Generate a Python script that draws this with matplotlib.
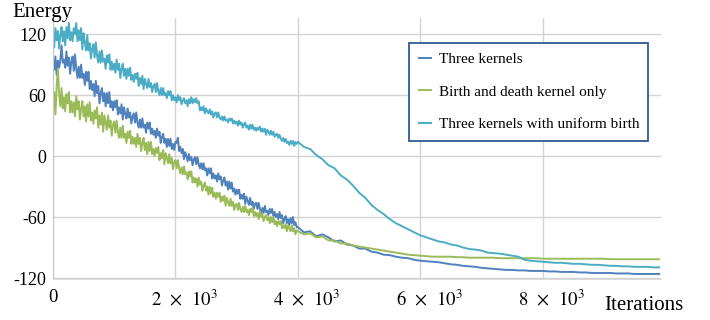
import numpy as np
import matplotlib
matplotlib.use('Agg')
import matplotlib.pyplot as plt
from matplotlib.transforms import ScaledTranslation

# energy: every 20 iterations up to 4000, then every 100
three_dense = [90, 85, 98, 80, 94, 87, 94, 109, 92, 95,
               87, 103, 89, 97, 81, 93, 98, 84, 100, 86,
               77, 88, 77, 90, 77, 81, 70, 83, 74, 83,
               66, 74, 65, 71, 59, 74, 62, 69, 52, 62,
               67, 54, 62, 49, 62, 52, 63, 48, 54, 45,
               54, 48, 55, 41, 48, 42, 51, 36, 48, 42,
               37, 47, 38, 43, 32, 39, 42, 33, 43, 33,
               28, 36, 28, 37, 28, 31, 23, 33, 27, 33,
               22, 27, 21, 25, 18, 27, 20, 24, 13, 19,
               22, 13, 17, 9, 17, 10, 17, 7, 12, 6,
               14, 13, 18, 5, 9, 3, 7, -3, 4, 0,
               -5, 2, -4, -1, -9, -3, -1, -8, -1, -8,
               -12, -7, -13, -7, -14, -12, -19, -12, -17, -12,
               -22, -17, -22, -19, -25, -17, -23, -20, -29, -24,
               -21, -29, -25, -33, -25, -32, -26, -35, -32, -38,
               -33, -37, -33, -42, -38, -42, -37, -47, -40, -44,
               -48, -41, -48, -45, -52, -47, -46, -52, -46, -52,
               -56, -51, -56, -49, -55, -54, -58, -52, -56, -52,
               -59, -55, -60, -57, -62, -55, -61, -58, -66, -62,
               -59, -66, -62, -68, -61, -66, -60, -68, -65, -70]
three_sparse = [-70, -75, -74, -79, -77, -80, -84, -83, -87, -88,
                -91, -91, -94, -95, -97, -97.5, -99, -100, -100.5, -102,
                -103, -103.5, -104, -104.5, -105.5, -106.5, -107, -108, -108.5, -109,
                -110, -110.5, -111, -111.5, -112, -112, -112.5, -112.5, -113, -113,
                -113, -113.5, -113.5, -114, -114, -114, -114.5, -114.5, -115, -115,
                -115, -115, -115.5, -115.5, -115.5, -116, -116, -116, -116, -116]

birth_dense = [45, 63, 41, 68, 86, 62, 49, 67, 47, 58,
               44, 61, 52, 63, 43, 54, 43, 53, 39, 59,
               46, 54, 36, 47, 54, 39, 49, 34, 51, 39,
               53, 35, 43, 32, 45, 37, 48, 28, 40, 31,
               43, 24, 40, 33, 26, 40, 28, 35, 20, 31,
               34, 23, 35, 24, 18, 28, 18, 30, 18, 22,
               13, 24, 18, 25, 12, 19, 12, 18, 9, 22,
               12, 18, 5, 13, 18, 6, 13, 2, 14, 5,
               14, 2, 7, 0, 8, 3, 9, -4, 3, -2,
               6, -8, 3, -2, -7, 2, -7, -2, -13, -6,
               -4, -12, -4, -12, -17, -11, -18, -10, -18, -16,
               -23, -15, -20, -15, -26, -21, -26, -22, -30, -21,
               -28, -25, -34, -29, -26, -34, -30, -38, -30, -37,
               -31, -40, -36, -42, -36, -40, -36, -45, -40, -44,
               -39, -49, -41, -45, -49, -42, -49, -45, -53, -48,
               -47, -53, -46, -52, -55, -50, -55, -49, -55, -53,
               -58, -52, -55, -51, -59, -55, -59, -56, -62, -54,
               -60, -57, -64, -60, -58, -63, -60, -66, -60, -65,
               -60, -67, -64, -69, -64, -67, -64, -71, -68, -71,
               -67, -74, -68, -71, -74, -68, -74, -71, -77, -73]
birth_sparse = [-74, -77, -76, -80, -79, -83, -83, -86, -86, -88,
                -89, -90, -91, -92, -93, -94, -95, -96, -97, -97.5,
                -98, -98.5, -99, -99, -99, -99, -99.5, -99.5, -100, -100,
                -100, -100, -100, -100.5, -100.5, -100.5, -100.5, -100.5, -100.5, -100.5,
                -101, -101, -101, -101, -101, -101, -101, -101, -101, -101,
                -101, -101.5, -101.5, -101.5, -101.5, -101.5, -101.5, -101.5, -101.5, -101.5]

uniform_dense = [118, 107, 126, 114, 123, 106, 119, 127, 113, 123,
                 109, 127, 116, 131, 114, 122, 113, 126, 120, 131,
                 113, 124, 114, 126, 105, 121, 112, 104, 119, 104,
                 111, 96, 106, 110, 97, 112, 99, 92, 103, 92,
                 104, 93, 96, 86, 99, 92, 100, 85, 93, 85,
                 91, 82, 95, 85, 91, 77, 86, 91, 79, 86,
                 76, 86, 79, 87, 75, 80, 73, 81, 76, 82,
                 69, 77, 71, 79, 66, 76, 71, 67, 76, 68,
                 72, 63, 69, 71, 63, 72, 64, 60, 67, 60,
                 67, 60, 62, 57, 64, 60, 64, 55, 60, 55,
                 58, 53, 60, 55, 58, 51, 55, 57, 52, 55,
                 49, 56, 52, 58, 52, 56, 53, 57, 52, 54,
                 45, 48, 45, 49, 42, 47, 44, 42, 46, 41,
                 44, 38, 42, 43, 38, 43, 38, 36, 39, 35,
                 39, 35, 36, 33, 37, 35, 37, 32, 35, 32,
                 34, 30, 35, 31, 33, 28, 31, 33, 28, 30,
                 26, 31, 27, 31, 26, 28, 25, 28, 26, 29,
                 24, 27, 24, 27, 21, 26, 24, 21, 25, 21,
                 24, 19, 21, 22, 18, 21, 17, 15, 18, 14,
                 17, 13, 14, 11, 15, 12, 15, 10, 14, 12]
uniform_sparse = [14, 9, 7, 1, -3, -9, -12, -19, -23, -29,
                  -36, -41, -48, -53, -57, -62, -66, -69, -72, -75,
                  -78, -80, -82, -84, -85, -87, -88, -90, -91.5, -92,
                  -93, -95, -95.5, -96, -97, -98, -99, -102, -103, -103.5,
                  -104, -104.5, -105, -105, -105.5, -106, -106, -106.5, -107, -107,
                  -107.5, -108, -108, -108.5, -108.5, -109, -109, -109, -109.5, -109.5]

labels = ['Three kernels', 'Birth and death kernel only', 'Three kernels with uniform birth']
colors = ['#4f81bd', '#9bbb59', '#4bacc6']
xticks = [0, 2000, 4000, 6000, 8000]
xticklabels = ['0', r'$2\enspace\times\enspace10^{3}$', r'$4\enspace\times\enspace10^{3}$',
               r'$6\enspace\times\enspace10^{3}$', r'$8\enspace\times\enspace10^{3}$']
yticks = [-120, -60, 0, 60, 120]
yticklabels = ['-120', '-60', '0', '60', '120']

plt.rcParams['font.family'] = ['Liberation Serif', 'DejaVu Serif']
plt.rcParams['mathtext.fontset'] = 'stix'

iters = np.concatenate([np.arange(0, 4000, 20), np.arange(4000, 9901, 100)])
series = [three_dense + three_sparse, birth_dense + birth_sparse, uniform_dense + uniform_sparse]

fig = plt.figure(figsize=(7.1, 3.2), dpi=100)
ax = fig.add_axes([0.0746, 0.128, 0.8563, 0.816])

for vals, lab, col in zip(series, labels, colors):
    ax.plot(iters, vals, color=col, lw=1.4, label=lab)

ax.set_xlim(0, 9930)
ax.set_ylim(-121, 136)
ax.set_xticks(xticks)
ax.set_xticklabels(xticklabels)
ax.set_yticks(yticks)
ax.set_yticklabels(yticklabels)
ax.tick_params(length=0, labelsize=13, pad=5)
ax.tick_params(axis='x', labelsize=13.5, pad=7)
# the sci labels sit a little right of their ticks in the original
shift = ScaledTranslation(0.09, 0, fig.dpi_scale_trans)
for lab in ax.get_xticklabels()[1:]:
    lab.set_transform(lab.get_transform() + shift)
ax.grid(True, color='#d3d3d3', lw=1)
ax.set_axisbelow(True)
for s in ['top', 'right']:
    ax.spines[s].set_visible(False)
ax.spines['left'].set_color('#c8c8c8')
ax.spines['bottom'].set_color('#dcdcdc')

leg = ax.legend(loc='upper right', bbox_to_anchor=(0.979, 0.904), fontsize=11,
                handlelength=0.8, handletextpad=0.5, labelspacing=1.25,
                borderpad=0.6, borderaxespad=0, fancybox=False, framealpha=1)
leg.get_frame().set_edgecolor('#2e5a94')
leg.get_frame().set_linewidth(1.3)

fig.text(0.018, 0.9625, 'Energy', fontsize=15, va='center')
fig.text(0.851, 0.045, 'Iterations', fontsize=15, va='center')

fig.savefig('out.png', dpi=100)
